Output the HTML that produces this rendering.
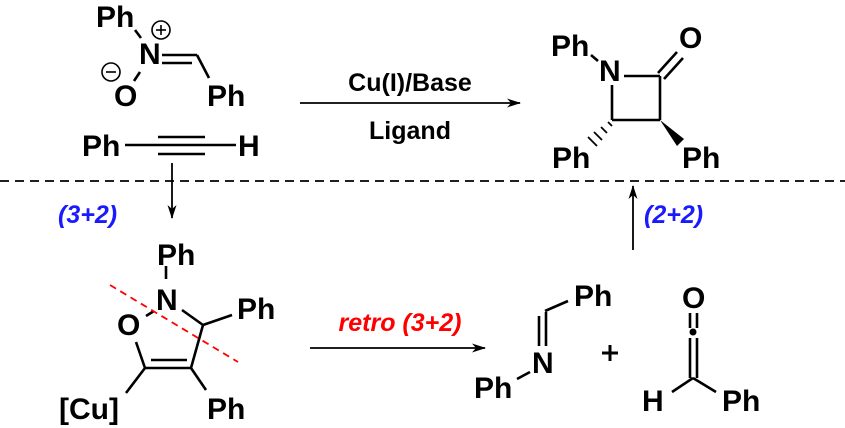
<!DOCTYPE html>
<html><head><style>
html,body{margin:0;padding:0;background:#fff;}
svg{display:block;}
text{font-family:"Liberation Sans",Arial,sans-serif;font-weight:bold;}
</style></head><body>
<svg width="845" height="428" viewBox="0 0 845 428" xmlns="http://www.w3.org/2000/svg">
<defs><marker id="ah" markerWidth="14" markerHeight="9" refX="13" refY="4.5" orient="auto" markerUnits="userSpaceOnUse"><path d="M0,0 L14,4.5 L0,9 L4,4.5 Z" fill="#000"/></marker></defs>
<g stroke="#000" stroke-width="2.6" fill="none">
<line x1="135" y1="30" x2="141" y2="38"/>
<line x1="162" y1="55" x2="197" y2="55"/>
<line x1="162" y1="63" x2="192" y2="63"/>
<line x1="197" y1="55" x2="209" y2="78"/>
<line x1="134" y1="81" x2="140" y2="72"/>
<circle cx="161" cy="30" r="9" stroke-width="1.6"/>
<line x1="156" y1="30" x2="166" y2="30" stroke-width="1.6"/>
<line x1="161" y1="25" x2="161" y2="35" stroke-width="1.6"/>
<circle cx="111" cy="72" r="9" stroke-width="1.6"/>
<line x1="106" y1="72" x2="116" y2="72" stroke-width="1.6"/>
<line x1="125" y1="145" x2="236" y2="145"/>
<line x1="158" y1="137" x2="205" y2="137"/>
<line x1="158" y1="154" x2="205" y2="154"/>
<line x1="172" y1="163" x2="172" y2="218" stroke-width="1.8" marker-end="url(#ah)"/>
<line x1="300" y1="103" x2="520" y2="103" stroke-width="1.8" marker-end="url(#ah)"/>
<line x1="633" y1="250" x2="633" y2="186" stroke-width="1.8" marker-end="url(#ah)"/>
<line x1="310" y1="348" x2="485" y2="348" stroke-width="1.8" marker-end="url(#ah)"/>
<line x1="0" y1="181" x2="845" y2="181" stroke-dasharray="9,6" stroke-width="1.8"/>
<line x1="591" y1="55" x2="598" y2="61"/>
<line x1="624" y1="76" x2="660" y2="76"/>
<line x1="660" y1="76" x2="660" y2="120"/>
<line x1="660" y1="120" x2="612" y2="120"/>
<line x1="612" y1="120" x2="612" y2="85"/>
<line x1="658" y1="73" x2="677" y2="52"/>
<line x1="664" y1="79" x2="683" y2="58"/>
<line x1="166" y1="266" x2="166" y2="279"/>
<line x1="182" y1="310" x2="203" y2="325"/>
<line x1="203" y1="325" x2="232" y2="315"/>
<line x1="203" y1="325" x2="191" y2="368"/>
<line x1="191" y1="368" x2="145" y2="368"/>
<line x1="151" y1="360" x2="187" y2="360"/>
<line x1="145" y1="368" x2="136" y2="342"/>
<line x1="146" y1="316" x2="154" y2="311"/>
<line x1="145" y1="368" x2="126" y2="393"/>
<line x1="191" y1="368" x2="206" y2="390"/>
<line x1="110" y1="285" x2="238" y2="362" stroke="#f00" stroke-dasharray="7,5" stroke-width="1.8"/>
<line x1="545" y1="311" x2="568" y2="301"/>
<line x1="539" y1="316" x2="539" y2="346"/>
<line x1="546" y1="312" x2="546" y2="346"/>
<line x1="517" y1="379" x2="530" y2="372"/>
<line x1="602" y1="353" x2="618" y2="353" stroke-width="3"/>
<line x1="610" y1="345" x2="610" y2="361" stroke-width="3"/>
<line x1="690" y1="313" x2="690" y2="328"/>
<line x1="697" y1="313" x2="697" y2="328"/>
<line x1="690" y1="338" x2="690" y2="378"/>
<line x1="697" y1="338" x2="697" y2="378"/>
<line x1="693" y1="378" x2="672" y2="392"/>
<line x1="693" y1="378" x2="716" y2="392"/>
</g>
<circle cx="693" cy="332" r="3.5" fill="#000"/>
<polygon points="660,120 684,139 677,146" fill="#000"/>
<g stroke="#000" stroke-width="1.8">
<line x1="608" y1="122" x2="612" y2="126"/>
<line x1="601" y1="127" x2="607" y2="133"/>
<line x1="594" y1="132" x2="602" y2="140"/>
<line x1="588" y1="137" x2="597" y2="146"/>
</g>
<g font-size="30" fill="#000">
<text x="96" y="27">Ph</text>
<text x="139" y="64">N</text>
<text x="114" y="106">O</text>
<text x="207" y="106">Ph</text>
<text x="82" y="156">Ph</text>
<text x="238" y="156">H</text>
<text x="551" y="56">Ph</text>
<text x="599" y="81">N</text>
<text x="679" y="48">O</text>
<text x="552" y="168">Ph</text>
<text x="682" y="168">Ph</text>
<text x="157" y="265">Ph</text>
<text x="156" y="310">N</text>
<text x="117" y="335">O</text>
<text x="237" y="319">Ph</text>
<text x="59" y="419">[Cu]</text>
<text x="207" y="419">Ph</text>
<text x="574" y="306">Ph</text>
<text x="532" y="373">N</text>
<text x="474" y="398">Ph</text>
<text x="682" y="308">O</text>
<text x="642" y="411">H</text>
<text x="722" y="411">Ph</text>
</g>
<g font-size="25" fill="#000" text-anchor="middle">
<text x="410" y="91">Cu(I)/Base</text>
<text x="410" y="139">Ligand</text>
</g>
<g font-size="25" font-style="italic">
<text x="58" y="223" fill="#1a1aff">(3+2)</text>
<text x="644" y="223" fill="#1a1aff">(2+2)</text>
<text x="400" y="331" fill="#f00" text-anchor="middle">retro (3+2)</text>
</g>
</svg>
</body></html>
